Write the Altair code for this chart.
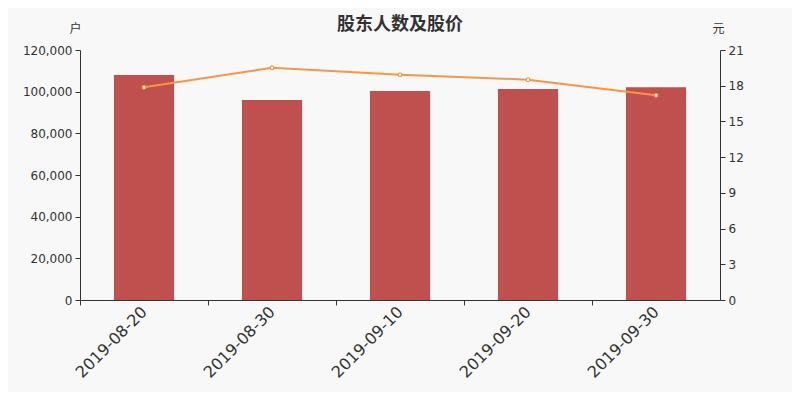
import altair as alt
import pandas as pd

dates = ["2019-08-20", "2019-08-30", "2019-09-10", "2019-09-20", "2019-09-30"]
holders = [108000, 96000, 100300, 101300, 102100]
prices = [17.87, 19.51, 18.93, 18.51, 17.19]

df = pd.DataFrame({"date": dates, "holders": holders, "price": prices})

FONT = "DejaVu Sans"
CJK = "Noto Sans CJK SC"

x = alt.X(
    "date:N",
    sort=dates,
    scale=alt.Scale(paddingInner=0.53, paddingOuter=0.265),
    axis=alt.Axis(
        title=None,
        tickOffset=-64,
        labelOffset=64,
        labelAngle=-45,
        labelAlign="right",
        labelBaseline="middle",
        labelFontSize=16,
        labelColor="#333333",
        labelFont=FONT,
        labelPadding=4,
        tickSize=5,
        tickColor="#333333",
        domainColor="#333333",
        grid=False,
    ),
)

bars = alt.Chart(df).mark_bar(color="#c0504d").encode(
    x=x,
    y=alt.Y(
        "holders:Q",
        scale=alt.Scale(domain=[0, 120000], nice=False),
        axis=alt.Axis(
            title="户",
            titleAngle=0,
            titleX=-5,
            titleY=-22,
            titleAlign="center",
            titleBaseline="middle",
            titleFont=CJK,
            titleFontSize=12,
            titleFontWeight="normal",
            titleColor="#333333",
            values=[0, 20000, 40000, 60000, 80000, 100000, 120000],
            format=",.0f",
            labelFont=FONT,
            labelFontSize=12,
            labelColor="#333333",
            tickSize=5,
            tickColor="#333333",
            domainColor="#333333",
            grid=False,
            labelPadding=3,
        ),
    ),
)

line_base = alt.Chart(df).encode(
    x=x,
    y=alt.Y(
        "price:Q",
        scale=alt.Scale(domain=[0, 21], nice=False),
        axis=alt.Axis(
            orient="right",
            title="元",
            titleAngle=0,
            titleX=-2,
            titleY=-22,
            titleAlign="center",
            titleBaseline="middle",
            titleFont=CJK,
            titleFontSize=12,
            titleFontWeight="normal",
            titleColor="#333333",
            values=[0, 3, 6, 9, 12, 15, 18, 21],
            labelFont=FONT,
            labelFontSize=12,
            labelColor="#333333",
            tickSize=5,
            tickColor="#333333",
            domainColor="#333333",
            grid=False,
            labelPadding=3,
        ),
    ),
)

line = line_base.mark_line(color="#f79646", strokeWidth=2)
points = line_base.mark_point(
    filled=True, fill="#ffffff", stroke="#f79646", strokeWidth=1.2, size=14, opacity=1
)

chart = (
    alt.layer(bars, line + points)
    .resolve_scale(y="independent")
    .properties(
        width=640,
        height=250,
        autosize=alt.AutoSizeParams(type="none"),
        padding={"left": 72, "top": 42, "right": 72, "bottom": 92},
        background="#f8f8f8",
        title=alt.TitleParams(
            "股东人数及股价",
            font=CJK,
            fontSize=18,
            fontWeight="bold",
            color="#333333",
            anchor="middle",
            offset=-12,
        ),
    )
    .configure_view(stroke=None)
)

chart.save("out.html", embed_options={"renderer": "svg", "actions": False})
